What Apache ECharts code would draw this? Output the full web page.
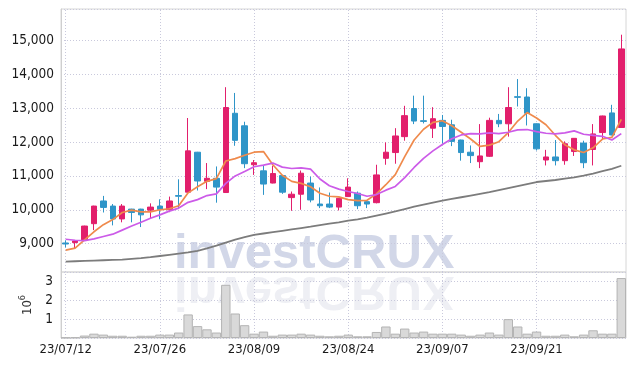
<!DOCTYPE html>
<html>
<head>
<meta charset="utf-8">
<script src="https://cdn.jsdelivr.net/npm/echarts@6/dist/echarts.min.js"></script>
<style>
  html, body { margin: 0; padding: 0; background: #fff; }
  #chart { width: 634px; height: 366px; }
</style>
</head>
<body>
<div id="chart"></div>
<script>
const dates = [
  "23/07/12", "23/07/13", "23/07/14", "23/07/17", "23/07/18", "23/07/19", "23/07/20", "23/07/21", "23/07/24", "23/07/25",
  "23/07/26", "23/07/27", "23/07/28", "23/07/31", "23/08/01", "23/08/02", "23/08/03", "23/08/04", "23/08/07", "23/08/08",
  "23/08/09", "23/08/10", "23/08/11", "23/08/14", "23/08/16", "23/08/17", "23/08/18", "23/08/21", "23/08/22", "23/08/23",
  "23/08/24", "23/08/25", "23/08/28", "23/08/29", "23/08/30", "23/08/31", "23/09/01", "23/09/04", "23/09/05", "23/09/06",
  "23/09/07", "23/09/08", "23/09/11", "23/09/12", "23/09/13", "23/09/14", "23/09/15", "23/09/18", "23/09/19", "23/09/20",
  "23/09/21", "23/09/22", "23/09/25", "23/09/26", "23/09/27", "23/10/04", "23/10/05", "23/10/06", "23/10/10", "23/10/11"
];

// open, close, low, high
const candles = [
  [9020, 8990, 8890, 9100], [9030, 9080, 8860, 9090], [9110, 9520, 9100, 9530], [9590, 10110, 9400, 10120],
  [10260, 10070, 9920, 10410], [10110, 9730, 9540, 10170], [9730, 10110, 9630, 10170], [10020, 9920, 9630, 10030],
  [10020, 9850, 9490, 10030], [9990, 10080, 9750, 10190], [10110, 10010, 9720, 10310], [10000, 10260, 9930, 10390],
  [10420, 10400, 10020, 10900], [10520, 11740, 10500, 12710], [11700, 10850, 10570, 11710], [10840, 10930, 10610, 11380],
  [10930, 10670, 10210, 11280], [10510, 13020, 10500, 13620], [12850, 12050, 11890, 13450], [12480, 11360, 11230, 12600],
  [11330, 11390, 11030, 11470], [11150, 10760, 10440, 11300], [10790, 11070, 10780, 11300], [11010, 10520, 10470, 11020],
  [10360, 10460, 9970, 10540], [10460, 11080, 10000, 11160], [10790, 10290, 10220, 10980], [10170, 10120, 10050, 10660],
  [10170, 10080, 10050, 10510], [10080, 10340, 9980, 10350], [10390, 10670, 10380, 10930], [10490, 10120, 10020, 10540],
  [10240, 10170, 10050, 10290], [10210, 11030, 10190, 11330], [11520, 11700, 11330, 11990], [11690, 12180, 11360, 12410],
  [12160, 12780, 12040, 13070], [12990, 12620, 12530, 13370], [12630, 12610, 12550, 13370], [12410, 12690, 12120, 13030],
  [12640, 12460, 11950, 12800], [12510, 12020, 11880, 12660], [12060, 11690, 11450, 12070], [11700, 11600, 11380, 11900],
  [11420, 11590, 11230, 12530], [11580, 12640, 11560, 12720], [12640, 12540, 12440, 12830], [12540, 13020, 12160, 13620],
  [13340, 13320, 13050, 13860], [13330, 12850, 12490, 13590], [12540, 11800, 11750, 12550], [11470, 11560, 11310, 11770],
  [11560, 11450, 11310, 12060], [11450, 11950, 11330, 12020], [11720, 12110, 11590, 12120], [11970, 11390, 11230, 12040],
  [11780, 12240, 11310, 12530], [12280, 12770, 12070, 12780], [12860, 12210, 12200, 13100], [12430, 14750, 12420, 15170]
];

const ma5 = [
  8810, 8870, 9110, 9350, 9560, 9710, 9920, 9990, 9940, 9940,
  10000, 10030, 10120, 10500, 10680, 10840, 10920, 11440, 11510, 11610,
  11700, 11720, 11330, 11020, 10840, 10780, 10680, 10490, 10400, 10380,
  10300, 10270, 10280, 10470, 10740, 11040, 11570, 12060, 12380, 12580,
  12630, 12480, 12290, 12090, 11870, 11910, 12010, 12280, 12620, 12870,
  12710, 12510, 12200, 11920, 11770, 11690, 11830, 12090, 12140, 12670
];

const ma10 = [
  9130, 9100, 9090, 9140, 9210, 9280, 9400, 9520, 9630, 9750,
  9850, 9960, 10050, 10220, 10300, 10420, 10470, 10780, 11000, 11130,
  11270, 11320, 11380, 11260, 11220, 11240, 11200, 10910, 10710, 10610,
  10540, 10480, 10400, 10450, 10580, 10690, 10950, 11250, 11520, 11740,
  11930, 12100, 12210, 12250, 12240, 12270, 12250, 12290, 12360, 12370,
  12310, 12260, 12240, 12270, 12330, 12230, 12200, 12170, 12060, 12250
];

const maLong = [
  8470, 8480, 8490, 8500, 8510, 8520, 8530, 8550, 8570, 8600,
  8635, 8670, 8705, 8740, 8790, 8860, 8940, 9030, 9120, 9190,
  9260, 9300, 9340, 9380, 9420, 9460, 9500, 9545, 9590, 9630,
  9680, 9720, 9770, 9830, 9890, 9950, 10020, 10090, 10150, 10210,
  10270, 10320, 10370, 10420, 10470, 10520, 10580, 10640, 10700, 10760,
  10820, 10850, 10880, 10920, 10960, 11010, 11070, 11140, 11210, 11300
];

// volume, millions
const volume = [
  0.02, 0.03, 0.13, 0.23, 0.18, 0.12, 0.12, 0.07, 0.12, 0.12,
  0.18, 0.18, 0.29, 1.25, 0.63, 0.46, 0.29, 2.82, 1.30, 0.68,
  0.23, 0.34, 0.12, 0.18, 0.18, 0.23, 0.18, 0.12, 0.09, 0.12,
  0.18, 0.09, 0.09, 0.32, 0.61, 0.23, 0.50, 0.29, 0.34, 0.23,
  0.23, 0.23, 0.18, 0.12, 0.18, 0.29, 0.18, 1.00, 0.61, 0.23,
  0.34, 0.12, 0.12, 0.18, 0.09, 0.18, 0.41, 0.23, 0.23, 3.18
];

const labelFont = "'DejaVu Sans Condensed', 'Liberation Sans Narrow', sans-serif";
const gridColor = "#c9c9dc";
const upColor = "#e21f6c";
const downColor = "#2f95c8";

const chart = echarts.init(document.getElementById("chart"));

chart.setOption({
  animation: false,
  backgroundColor: "#fff",
  grid: [
    { left: 61, right: 8, top: 9, height: 263, show: true, borderColor: "#d6d6d6", borderWidth: 1 },
    { left: 61, right: 8, top: 272, height: 66, show: true, borderColor: "#d6d6d6", borderWidth: 1 }
  ],
  graphic: [
    {
      type: "text",
      z: -10,
      x: 174,
      y: 254,
      style: {
        text: "investCRUX",
        font: "bold 49px 'Liberation Sans', Arial, sans-serif",
        fill: "rgba(165,175,210,0.5)",
        verticalAlign: "middle"
      }
    },
    {
      type: "text",
      z: -10,
      x: 174,
      y: 254,
      originY: 18.5,
      scaleY: -1,
      style: {
        text: "investCRUX",
        font: "bold 49px 'Liberation Sans', Arial, sans-serif",
        fill: "rgba(170,175,200,0.2)",
        verticalAlign: "middle"
      }
    }
  ],
  xAxis: [
    {
      type: "category",
      gridIndex: 0,
      data: dates,
      boundaryGap: true,
      axisLine: { show: false },
      axisLabel: { show: false },
      splitLine: { show: false },
      axisTick: {
        show: true,
        inside: true,
        alignWithLabel: true,
        interval: 9,
        length: 263,
        lineStyle: { color: gridColor, type: [1, 2] }
      }
    },
    {
      type: "category",
      gridIndex: 1,
      data: dates,
      boundaryGap: true,
      axisLine: { show: false },
      splitLine: { show: false },
      axisTick: {
        show: true,
        inside: true,
        alignWithLabel: true,
        interval: 9,
        length: 66,
        lineStyle: { color: gridColor, type: [1, 2] }
      },
      axisLabel: {
        interval: 9,
        margin: 5,
        color: "#1a1a1a",
        fontSize: 13,
        fontFamily: labelFont
      }
    }
  ],
  yAxis: [
    {
      type: "value",
      gridIndex: 0,
      min: 8163,
      max: 15929,
      splitNumber: 8,
      axisLine: { show: true, lineStyle: { color: "#cfcfcf" } },
      axisTick: { show: false },
      axisLabel: {
        showMinLabel: false,
        showMaxLabel: false,
        margin: 7,
        color: "#1a1a1a",
        fontSize: 13.5,
        fontFamily: labelFont,
        formatter: v => v.toLocaleString("en-US")
      },
      splitLine: { lineStyle: { color: gridColor, type: [1, 2] } }
    },
    {
      type: "value",
      gridIndex: 1,
      min: 0,
      max: 3.5,
      interval: 1,
      name: "{a|10}{s|6}",
      nameLocation: "middle",
      nameRotate: 90,
      nameGap: 22,
      nameTextStyle: {
        color: "#333",
        rich: {
          a: { fontSize: 13, fontFamily: labelFont, color: "#333", verticalAlign: "bottom", lineHeight: 16 },
          s: { fontSize: 9, fontFamily: labelFont, color: "#333", verticalAlign: "top", lineHeight: 10 }
        }
      },
      axisLine: { show: true, lineStyle: { color: "#cfcfcf" } },
      axisTick: { show: false },
      axisLabel: {
        showMinLabel: false,
        showMaxLabel: false,
        margin: 8,
        color: "#1a1a1a",
        fontSize: 13.5,
        fontFamily: labelFont
      },
      splitLine: { lineStyle: { color: gridColor, type: [1, 2] } }
    }
  ],
  series: [
    {
      name: "price",
      type: "candlestick",
      xAxisIndex: 0,
      yAxisIndex: 0,
      data: candles,
      barWidth: 6,
      itemStyle: {
        color: upColor,
        color0: downColor,
        borderColor: upColor,
        borderColor0: downColor,
        borderWidth: 1
      }
    },
    {
      name: "MA5",
      type: "line",
      xAxisIndex: 0,
      yAxisIndex: 0,
      data: ma5,
      symbol: "none",
      lineStyle: { color: "#ef8a4c", width: 1.7 }
    },
    {
      name: "MA10",
      type: "line",
      xAxisIndex: 0,
      yAxisIndex: 0,
      data: ma10,
      symbol: "none",
      lineStyle: { color: "#cc5be8", width: 1.7 }
    },
    {
      name: "MA long",
      type: "line",
      xAxisIndex: 0,
      yAxisIndex: 0,
      data: maLong,
      symbol: "none",
      lineStyle: { color: "#7c7c7c", width: 1.8 }
    },
    {
      name: "volume",
      type: "bar",
      xAxisIndex: 1,
      yAxisIndex: 1,
      data: volume,
      barWidth: "100%",
      itemStyle: { color: "#d9d9d9", borderColor: "#b4b4b4", borderWidth: 1 }
    }
  ]
});
</script>
</body>
</html>
